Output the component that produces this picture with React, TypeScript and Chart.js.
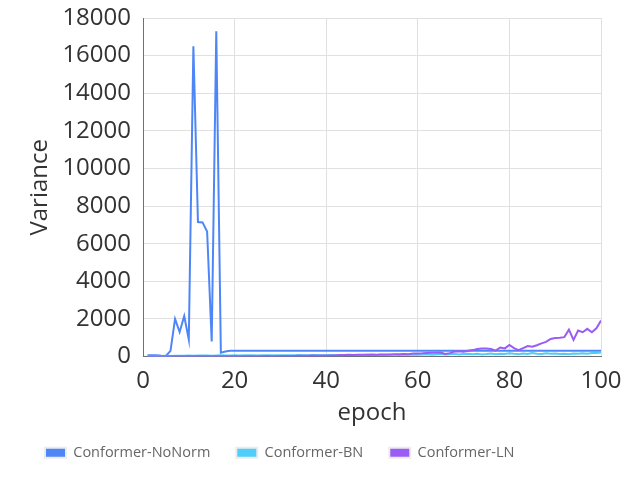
import React, { useEffect, useRef } from "react";
import { Chart, registerables } from "chart.js";

Chart.register(...registerables);

const epochs: number[] = Array.from({ length: 100 }, (_, i) => i + 1);

const seriesNames = ["Conformer-NoNorm", "Conformer-BN", "Conformer-LN"];

const noNorm: number[] = [
  60, 70, 60, 40, 30, 300, 2000, 1300, 2150, 900,
  16500, 7150, 7130, 6650, 800, 17300, 200, 270, 300, 310,
  310, 310, 310, 310, 310, 310, 310, 310, 310, 310,
  310, 310, 310, 310, 310, 310, 310, 310, 310, 310,
  310, 310, 310, 310, 310, 310, 310, 310, 310, 310,
  310, 310, 310, 310, 310, 310, 310, 310, 310, 310,
  310, 310, 310, 310, 310, 310, 310, 310, 310, 310,
  310, 310, 310, 310, 310, 310, 310, 310, 310, 310,
  310, 310, 310, 310, 310, 310, 310, 310, 310, 310,
  310, 310, 310, 310, 310, 310, 310, 310, 310, 310,
];

const bn: number[] = [
  20, 25, 30, 30, 35, 30, 40, 45, 40, 50,
  45, 50, 55, 50, 45, 55, 60, 50, 55, 60,
  55, 60, 65, 60, 55, 60, 65, 70, 60, 65,
  70, 65, 70, 75, 70, 65, 75, 80, 70, 75,
  80, 75, 70, 80, 85, 75, 80, 85, 90, 80,
  85, 90, 80, 95, 90, 85, 100, 90, 110, 95,
  100, 120, 90, 110, 130, 100, 120, 140, 110, 130,
  150, 120, 140, 110, 130, 160, 120, 150, 130, 170,
  140, 120, 160, 130, 180, 150, 130, 170, 140, 160,
  130, 150, 120, 160, 140, 170, 150, 180, 190, 210,
];

const ln: number[] = [
  5, 8, 6, 10, 8, 12, 10, 9, 12, 10,
  12, 10, 14, 12, 10, 15, 12, 14, 16, 12,
  15, 14, 18, 16, 15, 18, 20, 16, 18, 20,
  22, 20, 25, 40, 45, 42, 48, 45, 50, 46,
  52, 48, 80, 85, 90, 82, 95, 88, 92, 100,
  95, 100, 110, 105, 120, 115, 130, 125, 160, 165,
  170, 185, 200, 200, 215, 140, 180, 260, 280, 250,
  300, 340, 400, 430, 420, 400, 310, 480, 430, 610,
  450, 340, 450, 560, 520, 600, 700, 780, 930, 980,
  1000, 1030, 1430, 880, 1380, 1290, 1470, 1290, 1500, 1910,
];

const colors = ["#4f86f7", "#4fcdfb", "#9a5cf5"];

const FONT = "'Open Sans', 'Noto Sans', sans-serif";

export default function App() {
  const ref = useRef<HTMLCanvasElement | null>(null);

  useEffect(() => {
    if (!ref.current) return;
    const seriesValues = [noNorm, bn, ln];
    const chart = new Chart(ref.current, {
      type: "line",
      data: {
        datasets: seriesValues.map((vals, i) => ({
          label: seriesNames[i],
          data: vals.map((v, j) => ({ x: epochs[j], y: v })),
          borderColor: colors[i],
          backgroundColor: colors[i],
          borderWidth: 2,
          pointRadius: 0,
          tension: 0,
          fill: false,
          order: 3 - i,
        })),
      },
      options: {
        responsive: false,
        animation: false,
        layout: { padding: { left: 19, right: 0, top: 0, bottom: 14 } },
        plugins: {
          tooltip: { enabled: false },
          legend: {
            position: "bottom",
            align: "start",
            labels: {
              boxWidth: 21,
              boxHeight: 10,
              padding: 26,
              color: "#666",
              font: { family: FONT, size: 14.5 },
              sort: (a: any, b: any) => a.datasetIndex - b.datasetIndex,
              generateLabels: (c: any) =>
                Chart.defaults.plugins.legend.labels
                  .generateLabels(c)
                  .map((l: any) => ({ ...l, strokeStyle: "#ececec", lineWidth: 2 })),
            },
          },
        },
        scales: {
          x: {
            type: "linear",
            min: 0,
            max: 100,
            afterFit: (s: any) => {
              s.height = 63;
              s.paddingRight = 27;
            },
            ticks: {
              stepSize: 20,
              color: "#333",
              font: { family: FONT, size: 24 },
              padding: 10,
              maxRotation: 0,
              callback: (v: any) => String(v),
            },
            grid: { color: "#e0e0e0", drawTicks: false },
            border: { color: "#6e7079", width: 1 },
            title: {
              display: true,
              text: "epoch",
              color: "#333",
              font: { family: FONT, size: 24 },
              padding: { top: 0, bottom: -8 },
            },
          },
          y: {
            min: 0,
            max: 18000,
            afterFit: (s: any) => {
              s.width = 124;
              s.paddingTop = 18;
            },
            ticks: {
              stepSize: 2000,
              color: "#333",
              font: { family: FONT, size: 24 },
              padding: 12,
              callback: (v: any) => String(v),
            },
            grid: { color: "#e0e0e0", drawTicks: false },
            border: { color: "#6e7079", width: 1 },
            title: {
              display: true,
              text: "Variance",
              color: "#333",
              font: { family: FONT, size: 24 },
              padding: { top: 7, bottom: 7 },
            },
          },
        },
      },
    } as any);
    return () => chart.destroy();
  }, []);

  return (
    <div style={{ position: "fixed", left: 0, top: 0, width: 628, height: 484, background: "#fff" }}>
      <canvas ref={ref} width={628} height={484} style={{ display: "block" }} />
    </div>
  );
}
